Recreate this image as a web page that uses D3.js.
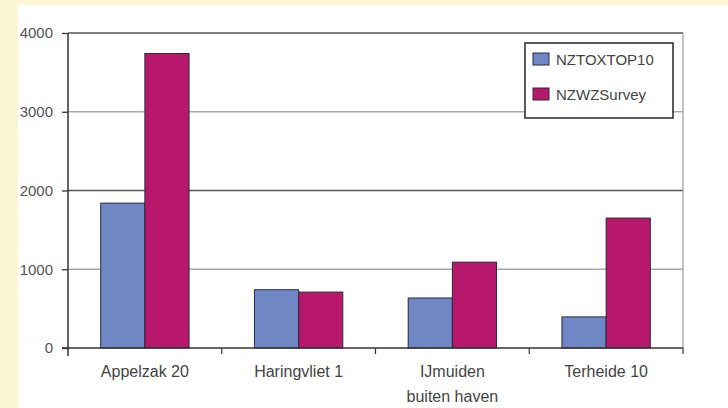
<!DOCTYPE html>
<html>
<head>
<meta charset="utf-8">
<script src="https://cdn.jsdelivr.net/npm/d3@7"></script>
<style>
  html, body { margin: 0; padding: 0; background: #fdf6d4; }
  svg { display: block; }
  text { font-family: "Liberation Sans", Arial, sans-serif; }
</style>
</head>
<body>
<svg id="chart" width="728" height="408"></svg>
<script>
// Sampling sites (label lines) and the two survey series
const categories = [["Appelzak 20"], ["Haringvliet 1"], ["IJmuiden", "buiten haven"], ["Terheide 10"]];
const seriesNames = ["NZTOXTOP10", "NZWZSurvey"];
const nztoxtop10 = [1840, 740, 635, 395];
const nzwzsurvey = [3740, 710, 1090, 1650];
const yTicks = [0, 1000, 2000, 3000, 4000];

const colors = ["#7087c6", "#b8186b"];
const svg = d3.select("#chart");

// white panel on cream page
svg.append("rect").attr("x", 18).attr("y", 5).attr("width", 710).attr("height", 403).attr("fill", "#ffffff");

const m = { left: 68, right: 683, top: 33, bottom: 348 };
const keys = categories.map(c => c.join(" "));
const x = d3.scaleBand().domain(keys).range([m.left, m.right]).paddingInner(0).paddingOuter(0);
const xs = d3.scaleBand().domain(seriesNames).range([0, x.bandwidth()]).paddingInner(0).paddingOuter(0.74);
const y = d3.scaleLinear().domain([0, 4000]).range([m.bottom, m.top]);

// gridlines
svg.append("g").selectAll("line").data(yTicks.filter(t => t > 0)).join("line")
  .attr("x1", m.left).attr("x2", m.right)
  .attr("y1", d => y(d)).attr("y2", d => y(d))
  .attr("stroke", d => (d % 2000 === 0) ? "#555" : "#a8a8a8")
  .attr("stroke-width", d => (d % 2000 === 0) ? 1.6 : 1.4);

// right border of plot area
svg.append("line").attr("x1", m.right).attr("x2", m.right)
  .attr("y1", m.top).attr("y2", m.bottom).attr("stroke", "#a8a8a8").attr("stroke-width", 1.4);

// bars
const rows = keys.map((k, i) => ({ key: k, vals: [nztoxtop10[i], nzwzsurvey[i]] }));
const grp = svg.append("g").selectAll("g").data(rows).join("g")
  .attr("transform", d => `translate(${x(d.key)},0)`);
grp.selectAll("rect").data(d => d.vals.map((v, j) => ({ s: seriesNames[j], v, j }))).join("rect")
  .attr("x", d => xs(d.s)).attr("width", xs.bandwidth())
  .attr("y", d => y(d.v)).attr("height", d => y(0) - y(d.v))
  .attr("fill", d => colors[d.j]).attr("stroke", "#2a2a3a").attr("stroke-width", 1);

// y axis
const yAxis = svg.append("g").attr("transform", `translate(${m.left},0)`)
  .call(d3.axisLeft(y).tickValues(yTicks).tickFormat(d3.format("d")).tickSize(6).tickSizeOuter(0));
yAxis.select(".domain").attr("stroke", "#333").attr("stroke-width", 1.5)
  .attr("d", `M0,${m.top}V${m.bottom + 8}`);
yAxis.selectAll(".tick line").attr("stroke", "#333").attr("stroke-width", 1.3);
yAxis.selectAll(".tick text").attr("fill", "#555").attr("font-size", 15).attr("x", -15);

// x axis
const xAxis = svg.append("g").attr("transform", `translate(0,${m.bottom})`);
xAxis.append("line").attr("x1", m.left - 6).attr("x2", m.right).attr("y1", 0).attr("y2", 0)
  .attr("stroke", "#333").attr("stroke-width", 1.5);
const bounds = keys.map(k => x(k)).concat([m.right]);
xAxis.selectAll("line.tk").data(bounds.slice(1)).join("line").attr("class", "tk")
  .attr("x1", d => d).attr("x2", d => d).attr("y1", 0).attr("y2", 6)
  .attr("stroke", "#333").attr("stroke-width", 1.2);
const lbl = xAxis.selectAll("text").data(categories).join("text")
  .attr("x", (d, i) => x(keys[i]) + x.bandwidth() / 2)
  .attr("y", 29).attr("text-anchor", "middle").attr("fill", "#444").attr("font-size", 16);
lbl.selectAll("tspan").data(d => d).join("tspan")
  .attr("x", function () { return d3.select(this.parentNode).attr("x"); })
  .attr("dy", (d, i) => i === 0 ? 0 : 25).text(d => d);

// legend
const lg = svg.append("g");
lg.append("rect").attr("x", 525).attr("y", 43).attr("width", 148).attr("height", 75)
  .attr("fill", "#fff").attr("stroke", "#333").attr("stroke-width", 1.6);
seriesNames.forEach((s, i) => {
  lg.append("rect").attr("x", 533).attr("y", 53 + i * 35).attr("width", 16).attr("height", 12)
    .attr("fill", colors[i]).attr("stroke", "#2a2a3a").attr("stroke-width", 1);
  lg.append("text").attr("x", 556).attr("y", 65 + i * 35).attr("font-size", 15).attr("fill", "#444").text(s);
});
</script>
</body>
</html>
